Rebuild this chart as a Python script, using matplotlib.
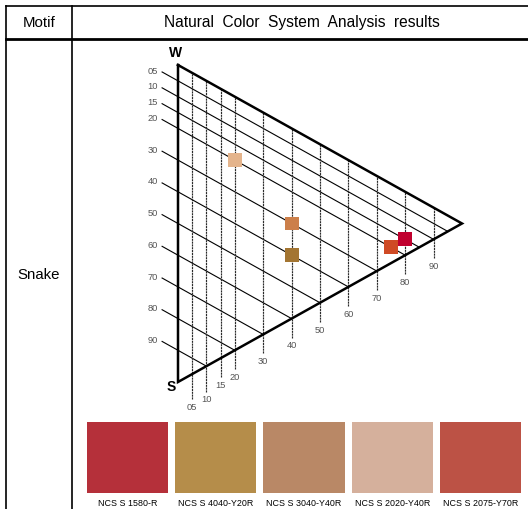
import numpy as np
import matplotlib.pyplot as plt

# NCS samples found on the snake motif
names = ['NCS S 1580-R', 'NCS S 4040-Y20R', 'NCS S 3040-Y40R',
         'NCS S 2020-Y40R', 'NCS S 2075-Y70R']
blackness = [15, 40, 30, 20, 20]
chroma = [80, 40, 40, 20, 75]
swatch_colors = ['#B5303A', '#B58D4A', '#B98866', '#D5B09C', '#BC5245']
marker_colors = ['#C0002E', '#A37532', '#CC7F4A', '#E4B48C', '#CF4A25']

# grid of the NCS triangle
s_grid = [5, 10, 15, 20, 30, 40, 50, 60, 70, 80, 90]
c_grid = [5, 10, 15, 20, 30, 40, 50, 60, 70, 80, 90]

plt.rcParams['font.family'] = ['Liberation Sans', 'DejaVu Sans']

W, H = 528, 509
fig = plt.figure(figsize=(W / 100, H / 100), dpi=100)


def fbox(x0, y0, x1, y1):
    return [x0 / W, 1 - y1 / H, (x1 - x0) / W, (y1 - y0) / H]


# table frame
bg = fig.add_axes([0, 0, 1, 1])
bg.set_xlim(0, W)
bg.set_ylim(H, 0)
bg.axis('off')
bg.plot([6, W], [6, 6], color='k', lw=1.2)
bg.plot([6, W], [39, 39], color='k', lw=2.0)
bg.plot([6, 6], [6, H], color='k', lw=1.2)
bg.plot([72, 72], [6, H], color='k', lw=1.2)
bg.text(39, 22.5, 'Motif', ha='center', va='center', fontsize=10.8)
bg.text(302, 22.5, 'Natural  Color  System  Analysis  results',
        ha='center', va='center', fontsize=11.2)
bg.text(39, 275, 'Snake', ha='center', va='center', fontsize=10.8)

# triangle: x = chromaticness, y = 100 - blackness - c/2
tri = fig.add_axes(fbox(178, 65, 462, 382))
tri.set_xlim(0, 100)
tri.set_ylim(0, 100)
tri.axis('off')


def ypos(s, c):
    return 100 - np.asarray(s) - np.asarray(c) / 2


c0 = -5.6
for s in s_grid:
    c1 = 100 - s
    tri.plot([c0, c1], [ypos(s, c0), ypos(s, c1)], color='k', lw=0.8,
             clip_on=False)
    tri.text(c0 - 1.4, ypos(s, c0) + 0.3, '%02d' % s, ha='right', va='center',
             fontsize=6.7, color='#555555')

for c in c_grid:
    ext = 8 if c < 15 else 6
    ytop = 100 - c / 2
    ybot = c / 2 - ext
    tri.plot([c, c], [ybot, ytop], color='#2a2a2a', lw=0.85,
             ls=(0, (1.8, 0.6)), clip_on=False)
    tri.text(c, ybot - 2.6, '%02d' % c, ha='center', va='center',
             fontsize=6.7, color='#555555')

tri.plot([0, 0, 100, 0], [100, 0, 50, 100], color='k', lw=1.8,
         clip_on=False, solid_joinstyle='miter')
tri.text(-1, 101.5, 'W', ha='center', va='bottom', fontsize=10,
         fontweight='bold')
tri.text(-0.8, -1.5, 'S', ha='right', va='center', fontsize=10,
         fontweight='bold')

tri.scatter(chroma, ypos(blackness, chroma), marker='s', s=100,
            c=marker_colors, linewidths=0, zorder=5, clip_on=False)

# colour swatches
sw = fig.add_axes(fbox(83, 422, 525, 493))
sw.bar(range(len(names)), [1] * len(names), width=0.92, color=swatch_colors)
sw.set_xlim(-0.5, len(names) - 0.5)
sw.set_ylim(0, 1)
for sp in sw.spines.values():
    sp.set_visible(False)
sw.set_yticks([])
sw.set_xticks(range(len(names)), names, fontsize=6.4)
sw.tick_params(axis='x', length=0, pad=4)

fig.savefig('out.png', dpi=100)
